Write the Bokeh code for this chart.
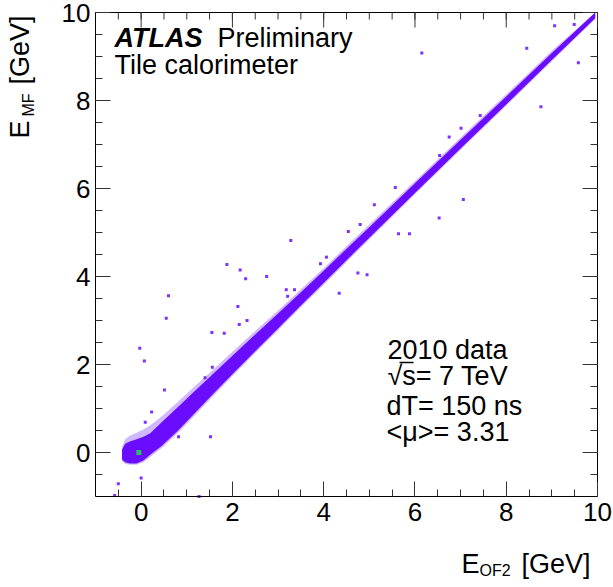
import math
from bokeh.plotting import figure
from bokeh.models import FixedTicker, LinearAxis, Label, Range1d
from bokeh.embed import file_html
from bokeh.resources import INLINE

# ---- axis ticks ----
major_ticks = [0, 2, 4, 6, 8, 10]
minor_ticks = [-0.5, 0, 0.5, 1, 1.5, 2, 2.5, 3, 3.5, 4, 4.5, 5, 5.5, 6, 6.5,
               7, 7.5, 8, 8.5, 9, 9.5, 10]
AX_MIN, AX_MAX = -1.0, 10.0

# ---- main correlation band (E_OF2 vs E_MF) ----
band_x = [-0.42, -0.35, -0.25, -0.1, 0.05, 0.2, 0.45, 0.8, 1.2, 1.55, 2.0,
          2.5, 3.0, 3.5, 4.0, 4.6, 5.0, 6.0, 7.0, 8.0, 9.0, 9.95]
core_lo = [-0.16, -0.22, -0.25, -0.25, -0.18, -0.05, 0.15, 0.49, 0.92, 1.30,
           1.78, 2.30, 2.82, 3.34, 3.85, 4.47, 4.88, 5.90, 6.91, 7.91, 8.92, 9.87]
core_hi = [0.06, 0.2, 0.25, 0.3, 0.36, 0.44, 0.69, 1.03, 1.42, 1.76, 2.20,
           2.68, 3.16, 3.64, 4.13, 4.73, 5.12, 6.12, 7.11, 8.09, 9.08, 10.0]
fringe_lo = [-0.2, -0.26, -0.28, -0.28, -0.22, -0.1, 0.10, 0.44, 0.87, 1.25,
             1.74, 2.26, 2.78, 3.30, 3.81, 4.43, 4.84, 5.87, 6.88, 7.88, 8.89, 9.85]
fringe_hi = [0.12, 0.3, 0.38, 0.45, 0.52, 0.62, 0.82, 1.15, 1.53, 1.86, 2.29,
             2.76, 3.23, 3.71, 4.19, 4.79, 5.18, 6.17, 7.16, 8.14, 9.13, 10.0]

# ---- isolated entries off the band ----
out_x = [1.88, 2.17, 2.29, 2.75, 3.28, 0.6, 0.55, -0.03, 0.07, 2.12, 2.15,
         2.32, 1.55, 1.82, 3.18, 3.21, 3.36, 1.56, 1.4, 4.34, 4.75, 4.95, 5.64,
         5.88, 6.53, 5.57, 5.11, 4.8, 6.75, 4.54, 4.06, 3.93, 6.15, 8.45, 9.06,
         9.49, 9.58, 8.76, 7.06, 7.01, 7.43, 6.54, 0.51, 0.82, 1.52, -0.5, 0.0,
         -0.58, 1.27, 0.09, 0.23]
out_y = [4.27, 4.15, 3.95, 4.0, 4.82, 3.56, 3.05, 2.37, 2.08, 3.32, 2.91, 3.0,
         2.73, 2.71, 3.7, 3.55, 3.7, 1.94, 1.7, 3.62, 4.08, 4.04, 4.97, 4.97,
         5.33, 6.02, 5.63, 5.18, 7.17, 5.02, 4.44, 4.29, 9.08, 9.19, 9.7, 9.73,
         8.86, 7.86, 5.75, 7.37, 7.66, 6.75, 1.42, 0.36, 0.36, -0.71, -0.58,
         -0.98, -1.0, 0.69, 0.92]

# densest cell
peak_x = [-0.05]
peak_y = [0.0]

DARK = "#6a0dff"
LIGHT = "#b28aff"
FONT = "Liberation Sans"

W, H = 613, 587
# pixel placement of the axes box inside the canvas
BOX_L, BOX_R, BOX_T, BOX_B = 95, 597, 12, 496
sx = (BOX_R - BOX_L) / (AX_MAX - AX_MIN)   # px per GeV (x)
sy = (BOX_B - BOX_T) / (AX_MAX - AX_MIN)   # px per GeV (y)
x_range = Range1d(AX_MIN - BOX_L / sx, AX_MAX + (W - BOX_R) / sx)
y_range = Range1d(AX_MIN - (H - BOX_B) / sy, AX_MAX + BOX_T / sy)

p = figure(width=W, height=H, x_range=x_range, y_range=y_range,
           output_backend="svg", toolbar_location=None,
           x_axis_location=None, y_axis_location=None,
           min_border=0)
p.grid.visible = False
p.outline_line_color = None
p.background_fill_color = "white"
p.border_fill_color = "white"

xax = LinearAxis(fixed_location=AX_MIN, bounds=(AX_MIN, AX_MAX))
yax = LinearAxis(fixed_location=AX_MIN, bounds=(AX_MIN, AX_MAX))
p.add_layout(xax, "below")
p.add_layout(yax, "left")
for ax in (xax, yax):
    ax.ticker = FixedTicker(ticks=major_ticks, minor_ticks=minor_ticks)
    ax.axis_line_color = "black"
    ax.major_tick_in = 15
    ax.major_tick_out = 0
    ax.minor_tick_in = 7
    ax.minor_tick_out = 0
    ax.major_tick_line_color = "#333333"
    ax.minor_tick_line_color = "#333333"
    ax.major_label_text_font = FONT
    ax.major_label_text_font_size = "26px"
    ax.major_label_text_color = "black"
xax.major_label_standoff = 6
yax.major_label_standoff = 5

# top and right frame edges with inward ticks
maj_dy, min_dy = 15 / sy, 7 / sy
maj_dx, min_dx = 15 / sx, 7 / sx
p.segment(x0=[AX_MIN, AX_MAX], y0=[AX_MAX, AX_MIN], x1=[AX_MAX, AX_MAX],
          y1=[AX_MAX, AX_MAX], line_color="black", line_width=1)
p.segment(x0=major_ticks, y0=[AX_MAX] * len(major_ticks), x1=major_ticks,
          y1=[AX_MAX - maj_dy] * len(major_ticks), line_color="#333333")
p.segment(x0=minor_ticks, y0=[AX_MAX] * len(minor_ticks), x1=minor_ticks,
          y1=[AX_MAX - min_dy] * len(minor_ticks), line_color="#333333")
p.segment(x0=[AX_MAX] * len(major_ticks), y0=major_ticks,
          x1=[AX_MAX - maj_dx] * len(major_ticks), y1=major_ticks,
          line_color="#333333")
p.segment(x0=[AX_MAX] * len(minor_ticks), y0=minor_ticks,
          x1=[AX_MAX - min_dx] * len(minor_ticks), y1=minor_ticks,
          line_color="#333333")

# data
p.varea(x=band_x, y1=fringe_lo, y2=fringe_hi, fill_color=LIGHT, fill_alpha=0.6)
p.varea(x=band_x, y1=core_lo, y2=core_hi, fill_color=DARK)
p.scatter(out_x, out_y, marker="square", size=3, fill_color=DARK,
          line_color=None, alpha=0.85)
p.scatter(peak_x, peak_y, marker="square", size=5, fill_color="#2fbf5f",
          line_color=None)


def px2x(px):
    return AX_MIN + (px - BOX_L) / sx


def py2y(py):
    return AX_MAX - (py - BOX_T) / sy


SHIFT_H = 8    # baseline correction for horizontal labels (px)
SHIFT_V = 14   # baseline correction for rotated labels (px)


def lab(px, py, text, size="27px", style="normal", rotated=False):
    if rotated:
        px, angle = px - SHIFT_V, math.pi / 2
    else:
        py, angle = py - SHIFT_H, 0.0
    p.add_layout(Label(x=px2x(px), y=py2y(py), text=text,
                       text_font=FONT, text_font_size=size,
                       text_font_style=style, text_color="black",
                       text_baseline="alphabetic", text_align="left",
                       angle=angle))


# ATLAS header
lab(114, 45, "ATLAS", style="bold italic")
lab(217, 45, "Preliminary")
lab(114, 72, "Tile calorimeter")

# run info
lab(387, 357, "2010 data")
lab(387, 383, "√s= 7 TeV")
lab(386, 413, "dT= 150 ns")
lab(386, 439, "<μ>= 3.31")
# overline of the square-root sign over "s"
p.segment(x0=[px2x(399)], y0=[py2y(362)], x1=[px2x(413)], y1=[py2y(362)],
          line_color="black", line_width=1.5)

# x axis title
lab(461, 571, "E")
lab(479, 578, "OF2", size="16px")
lab(521, 571, "[GeV]")

# y axis title (rotated)
lab(33, 138, "E", rotated=True)
lab(42, 116, "MF", size="16px", rotated=True)
lab(33, 84, "[GeV]", rotated=True)

open("out.html", "w").write(file_html(p, INLINE))
